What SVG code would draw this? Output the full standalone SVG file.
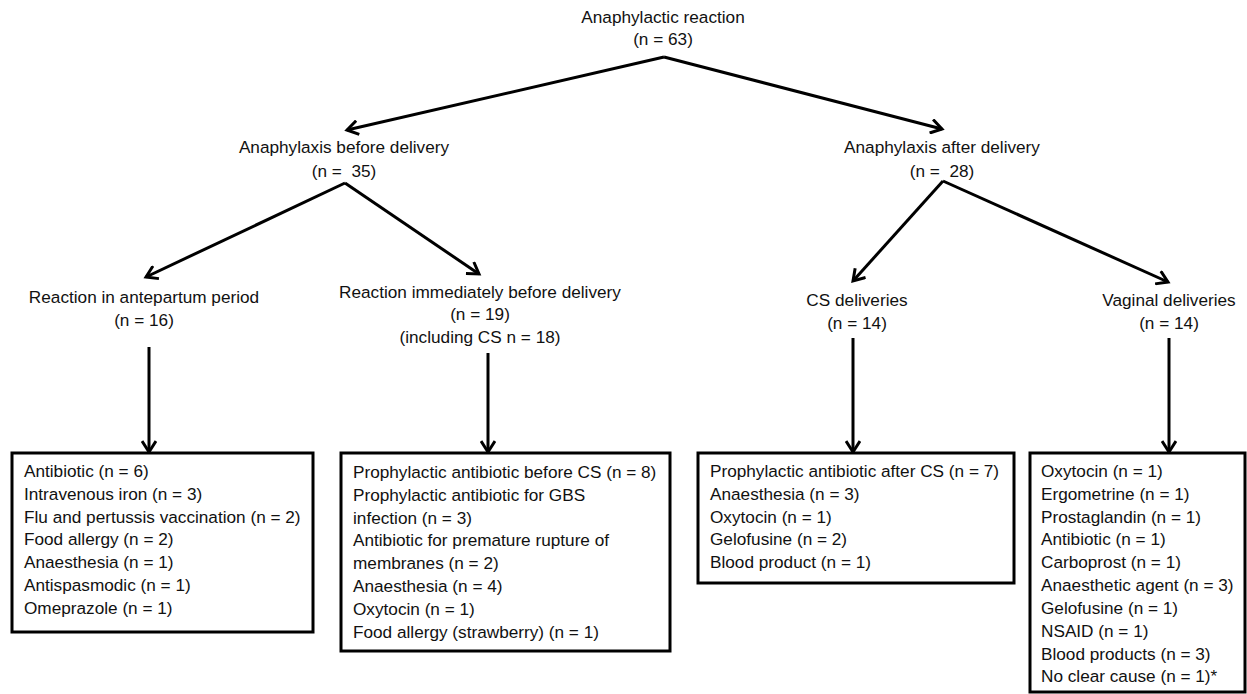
<svg xmlns="http://www.w3.org/2000/svg" width="1247" height="694" viewBox="0 0 1247 694">
<defs>
<marker id="arr" markerWidth="16" markerHeight="16" refX="12" refY="8" orient="auto" markerUnits="userSpaceOnUse">
<path d="M1,1 L12,8 L1,15" fill="none" stroke="#000" stroke-width="3"/>
</marker>
</defs>
<style>
text{font-family:"Liberation Sans",Arial,sans-serif;font-size:17.2px;fill:#111}
.c{text-anchor:middle}
.pre{white-space:pre}
.box{fill:#fff;stroke:#000;stroke-width:3}
.con{stroke:#000;stroke-width:3;fill:none;marker-end:url(#arr)}
</style>
<rect width="1247" height="694" fill="#fff"/>
<g id="connectors">
<line class="con" x1="664" y1="57" x2="347" y2="130"/>
<line class="con" x1="664" y1="57" x2="942" y2="129"/>
<line class="con" x1="345" y1="183" x2="146" y2="277"/>
<line class="con" x1="345" y1="183" x2="479" y2="274"/>
<line class="con" x1="943" y1="181" x2="853" y2="281"/>
<line class="con" x1="943" y1="181" x2="1168" y2="282"/>
<line class="con" x1="149" y1="347" x2="149" y2="452"/>
<line class="con" x1="488" y1="353" x2="488" y2="452"/>
<line class="con" x1="853" y1="338" x2="853" y2="452"/>
<line class="con" x1="1169" y1="338" x2="1169" y2="452"/>
</g>
<g id="root">
<text class="c" x="663" y="23">Anaphylactic reaction</text>
<text class="c" x="663" y="45">(n = 63)</text>
</g>
<g id="before">
<text class="c" x="344" y="153">Anaphylaxis before delivery</text>
<text class="c pre" x="344" y="177" xml:space="preserve">(n =  35)</text>
</g>
<g id="after">
<text class="c" x="942" y="153">Anaphylaxis after delivery</text>
<text class="c pre" x="942" y="177" xml:space="preserve">(n =  28)</text>
</g>
<g id="antepartum">
<text class="c" x="144" y="303">Reaction in antepartum period</text>
<text class="c" x="144" y="326">(n = 16)</text>
</g>
<g id="immediately">
<text class="c" x="480" y="298">Reaction immediately before delivery</text>
<text class="c" x="480" y="320">(n = 19)</text>
<text class="c" x="480" y="343">(including CS n = 18)</text>
</g>
<g id="cs">
<text class="c" x="857" y="306">CS deliveries</text>
<text class="c" x="857" y="329">(n = 14)</text>
</g>
<g id="vaginal">
<text class="c" x="1169" y="306">Vaginal deliveries</text>
<text class="c" x="1169" y="329">(n = 14)</text>
</g>
<g id="box1">
<rect class="box" x="12" y="453" width="301" height="179"/>
<text x="24" y="477">Antibiotic (n = 6)</text>
<text x="24" y="500">Intravenous iron (n = 3)</text>
<text x="24" y="523">Flu and pertussis vaccination (n = 2)</text>
<text x="24" y="545">Food allergy (n = 2)</text>
<text x="24" y="568">Anaesthesia (n = 1)</text>
<text x="24" y="591">Antispasmodic (n = 1)</text>
<text x="24" y="614">Omeprazole (n = 1)</text>
</g>
<g id="box2">
<rect class="box" x="341" y="453" width="329" height="198"/>
<text x="353" y="478">Prophylactic antibiotic before CS (n = 8)</text>
<text x="353" y="501">Prophylactic antibiotic for GBS</text>
<text x="353" y="524">infection (n = 3)</text>
<text x="353" y="546">Antibiotic for premature rupture of</text>
<text x="353" y="569">membranes (n = 2)</text>
<text x="353" y="592">Anaesthesia (n = 4)</text>
<text x="353" y="615">Oxytocin (n = 1)</text>
<text x="353" y="638">Food allergy (strawberry) (n = 1)</text>
</g>
<g id="box3">
<rect class="box" x="698" y="453" width="316" height="130"/>
<text x="710" y="477">Prophylactic antibiotic after CS (n = 7)</text>
<text x="710" y="500">Anaesthesia (n = 3)</text>
<text x="710" y="523">Oxytocin (n = 1)</text>
<text x="710" y="545">Gelofusine (n = 2)</text>
<text x="710" y="568">Blood product (n = 1)</text>
</g>
<g id="box4">
<rect class="box" x="1030" y="453" width="215" height="239"/>
<text x="1041" y="477">Oxytocin (n = 1)</text>
<text x="1041" y="500">Ergometrine (n = 1)</text>
<text x="1041" y="523">Prostaglandin (n = 1)</text>
<text x="1041" y="545">Antibiotic (n = 1)</text>
<text x="1041" y="568">Carboprost (n = 1)</text>
<text x="1041" y="591">Anaesthetic agent (n = 3)</text>
<text x="1041" y="614">Gelofusine (n = 1)</text>
<text x="1041" y="637">NSAID (n = 1)</text>
<text x="1041" y="660">Blood products (n = 3)</text>
<text x="1041" y="682">No clear cause (n = 1)*</text>
</g>
</svg>
